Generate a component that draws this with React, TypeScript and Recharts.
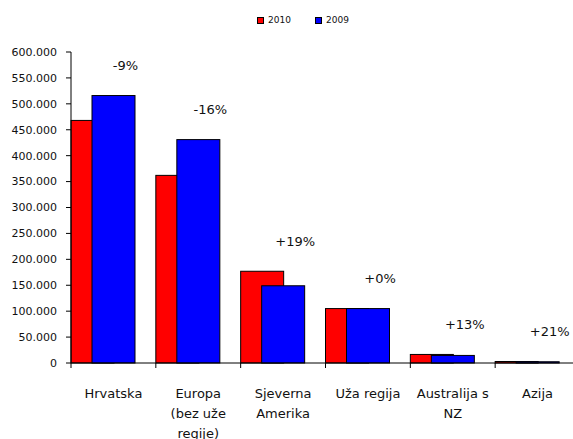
import React from 'react';
import { BarChart, Bar, XAxis, YAxis } from 'recharts';

const categories = [
  'Hrvatska',
  'Europa\n(bez uže\nregije)',
  'Sjeverna\nAmerika',
  'Uža regija',
  'Australija s\nNZ',
  'Azija'
];
const values2010 = [468000, 362000, 177000, 105000, 16500, 2900];
const values2009 = [516000, 431000, 149000, 105000, 14600, 2400];
const changeLabels = ['-9%', '-16%', '+19%', '+0%', '+13%', '+21%'];
const yTicks = [0, 50000, 100000, 150000, 200000, 250000, 300000, 350000, 400000, 450000, 500000, 550000, 600000];

const seriesNames = ['2010', '2009'];
const COLORS = ['#FF0000', '#0000FF'];

const data = categories.map((name, i) => ({
  name,
  v2010: values2010[i],
  v2009: values2009[i],
  change: changeLabels[i]
}));

const FONT = '"DejaVu Sans", sans-serif';
const CHART_W = 590;
const CHART_H = 439;
const Y_AXIS_W = 71;
const MARGIN_R = 10;
const BAND = (CHART_W - Y_AXIS_W - MARGIN_R) / categories.length;
const BAR_SHIFT = 10; // push the overlapping pair to the left edge of each category

const formatThousands = (v: number) => String(v).replace(/\B(?=(\d{3})+(?!\d))/g, '.');

const RedBar = (p: any) => (
  <rect x={p.x - BAR_SHIFT} y={p.y} width={p.width} height={p.height} fill={COLORS[0]} stroke="#000" strokeWidth={1} />
);

const BlueBar = (p: any) => {
  const row = p.payload;
  const perUnit = p.height / row.v2009;
  const top = p.y + p.height - Math.max(row.v2009, row.v2010) * perUnit;
  return (
    <g>
      <rect x={p.x - BAR_SHIFT} y={p.y} width={p.width} height={p.height} fill={COLORS[1]} stroke="#000" strokeWidth={1} />
      <text
        x={p.x + p.width / 2 + 2}
        y={top - 30}
        textAnchor="middle"
        dominantBaseline="central"
        fontSize={13}
        fontFamily={FONT}
        fill="#111"
      >
        {row.change}
      </text>
    </g>
  );
};

const XTick = (p: any) => {
  const lines = String(p.payload.value).split('\n');
  const bx = p.x - BAND / 2;
  return (
    <g>
      <line x1={bx} y1={p.y} x2={bx} y2={p.y + 5} stroke="#000" />
      {lines.map((l, i) => (
        <text
          key={i}
          x={p.x}
          y={p.y + 30 + i * 20}
          textAnchor="middle"
          dominantBaseline="central"
          fontSize={13}
          fontFamily={FONT}
          fill="#111"
        >
          {l}
        </text>
      ))}
    </g>
  );
};

export default function App() {
  return (
    <div
      style={{
        position: 'fixed',
        left: 0,
        top: 0,
        width: 573,
        height: 439,
        overflow: 'hidden',
        background: '#fff',
        fontFamily: FONT
      }}
    >
      {/* Legend */}
      {seriesNames.map((s, i) => (
        <div
          key={s}
          style={{
            position: 'absolute',
            left: 257 + i * 58,
            top: 15,
            display: 'flex',
            alignItems: 'center',
            fontSize: 9,
            color: '#111'
          }}
        >
          <span
            style={{
              display: 'inline-block',
              width: 5,
              height: 5,
              background: COLORS[i],
              border: '1px solid #000',
              marginRight: 4
            }}
          />
          {s}
        </div>
      ))}

      <BarChart
        width={CHART_W}
        height={CHART_H}
        data={data}
        margin={{ top: 52, right: MARGIN_R, bottom: 0, left: 0 }}
        barSize={43}
        barGap={-22}
      >
        <YAxis
          width={Y_AXIS_W}
          domain={[0, 600000]}
          ticks={yTicks}
          interval={0}
          tickFormatter={formatThousands}
          tickSize={5}
          tickMargin={9}
          axisLine={{ stroke: '#000' }}
          tickLine={{ stroke: '#000' }}
          tick={{ fontSize: 11, fill: '#111', fontFamily: FONT }}
        />
        <XAxis
          dataKey="name"
          height={CHART_H - 363}
          interval={0}
          tickSize={0}
          tickMargin={0}
          tickLine={false}
          axisLine={{ stroke: '#000' }}
          tick={<XTick />}
        />
        <Bar dataKey="v2010" name={seriesNames[0]} fill={COLORS[0]} shape={RedBar} isAnimationActive={false} />
        <Bar dataKey="v2009" name={seriesNames[1]} fill={COLORS[1]} shape={BlueBar} isAnimationActive={false} />
      </BarChart>
    </div>
  );
}
